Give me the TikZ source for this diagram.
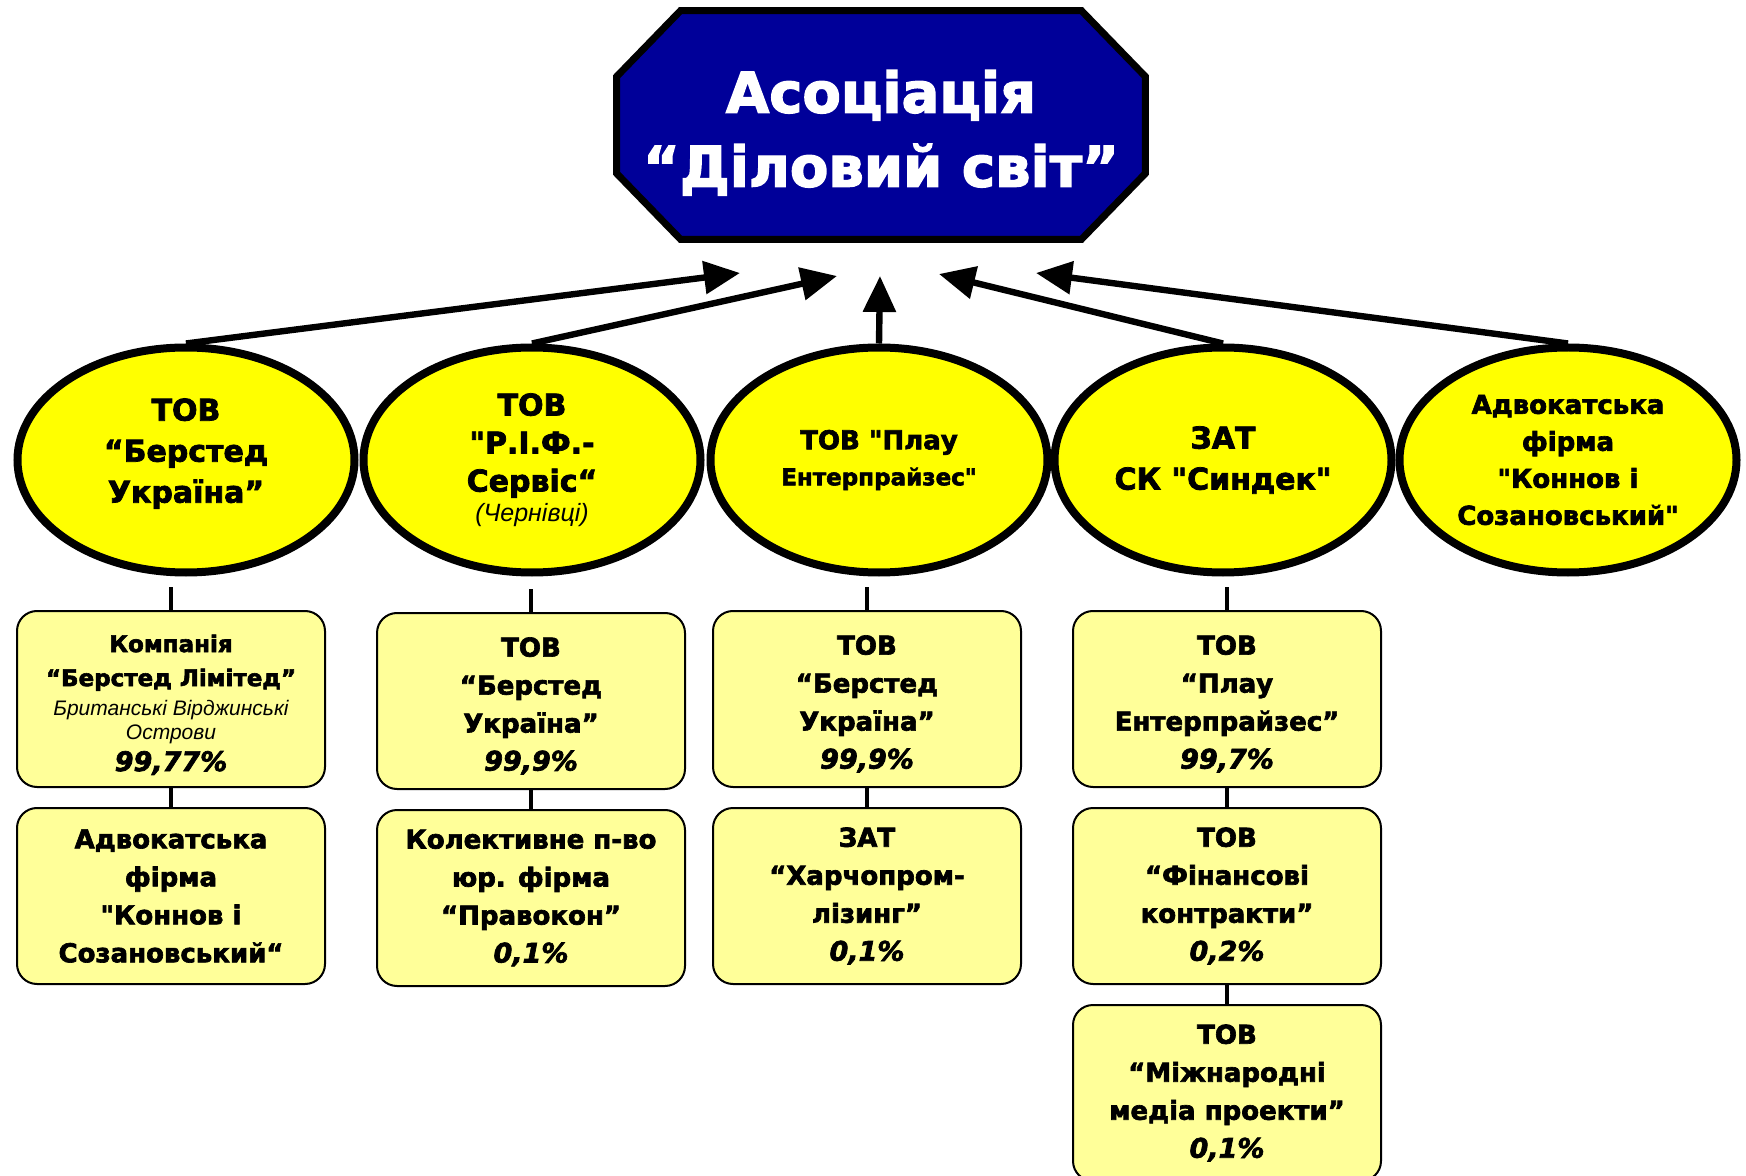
\documentclass[tikz,border=0pt]{standalone}
\usepackage{fontspec}
\setmainfont{DejaVu Sans}[Ligatures=TeXOff, BoldFeatures={FakeBold=2.5}, BoldItalicFeatures={FakeBold=2.5}]
\newfontfamily\placefont{Liberation Sans}
\usetikzlibrary{positioning,arrows.meta,shapes.geometric,backgrounds}

\definecolor{navybox}{HTML}{000099}
\definecolor{firmyellow}{HTML}{FFFF00}
\definecolor{sharepale}{HTML}{FFFF99}

\newcommand{\pct}[1]{{\bfseries\itshape\fontsize{13.5}{15}\selectfont #1}}
\newcommand{\where}[1]{{\placefont\mdseries\itshape\fontsize{10.5}{12}\selectfont #1}}
\newcommand{\lift}{\rule{0pt}{14.5pt}}

\begin{document}
\begin{tikzpicture}[x=0.5pt, y=-0.5pt,
  assoc/.style ={rectangle, minimum width=264pt, minimum height=114pt, inner sep=0pt,
                 text=white, align=center, font=\bfseries\fontsize{28}{37}\selectfont},
  octa/.style  ={draw, line width=3.5pt, fill=navybox, line join=miter},
  member/.style={draw, ellipse, line width=4pt, fill=firmyellow,
                 minimum width=168.5pt, minimum height=112.5pt, inner sep=0pt,
                 align=center, font=\bfseries\fontsize{15}{20.5}\selectfont},
  share/.style ={draw, rounded corners=10pt, line width=1pt, fill=sharepale,
                 minimum width=154pt, minimum height=88pt, inner sep=2pt,
                 align=center, font=\bfseries\fontsize{13}{19}\selectfont},
  arr/.style   ={-{Triangle[length=18pt,width=16pt]}, line width=3.2pt},
  tie/.style   ={line width=2.4pt}]

\useasboundingbox (0,0) rectangle (1746,1176);

%% Top: the association (octagon drawn behind the text)
\node[assoc] (assoc) at (881,125) {\rule{0pt}{29pt}Асоціація\\“Діловий світ”};
\begin{scope}[on background layer]
  \draw[octa] ([xshift=32pt]assoc.north west) -- ([xshift=-32pt]assoc.north east)
    -- ([yshift=-33pt]assoc.north east) -- ([yshift=33pt]assoc.south east)
    -- ([xshift=-32pt]assoc.south east) -- ([xshift=32pt]assoc.south west)
    -- ([yshift=33pt]assoc.south west) -- ([yshift=-33pt]assoc.north west) -- cycle;
\end{scope}

%% Members (row of ellipses)
\node[member] (berstedUA) at (186,460) {ТОВ\\“Берстед\\Україна”\\[-11pt]};
\node[member, font=\bfseries\fontsize{15}{19}\selectfont]
                          (rif)       at (532,460) {ТОВ\\"Р.І.Ф.-\\Сервіс“\\[-4pt]\where{\fontsize{12.5}{14}\selectfont(Чернівці)}};
\node[member, font=\bfseries\fontsize{13}{18}\selectfont]
                          (plau)      at (879,460) {ТОВ "Плау\\{\fontsize{11.5}{18}\selectfont Ентерпрайзес"}};
\node[member] (syndek)    at (1223,460) {ЗАТ\\СК "Синдек"};
\node[member, font=\bfseries\fontsize{13}{18.5}\selectfont]
                          (konnov)    at (1568,460) {Адвокатська\\фірма\\"Коннов і\\Созановський"};

%% Shareholders under each member
\node[share, font=\bfseries\fontsize{11.5}{14}\selectfont]
             (sh1a) at (171,699) {\lift Компанія\\[3pt]“Берстед Лімітед”\\[0.5pt]\where{Британські Вірджинські}\\[-2pt]\where{Острови}\\[2pt]\pct{99,77\%}};
\node[share] (sh1b) [below=9.5pt of sh1a] {Адвокатська\\фірма\\"Коннов і\\Созановський“};

\node[share] (sh2a) at (531,701) {\lift ТОВ\\“Берстед\\Україна”\\\pct{99,9\%}};
\node[share] (sh2b) [below=9.5pt of sh2a] {Колективне п-во\\юр. фірма\\“Правокон”\\\pct{0,1\%}};

\node[share] (sh3a) at (867,699) {\lift ТОВ\\“Берстед\\Україна”\\\pct{99,9\%}};
\node[share] (sh3b) [below=9.5pt of sh3a] {ЗАТ\\“Харчопром-\\лізинг”\\\pct{0,1\%}};

\node[share] (sh4a) at (1227,699) {\lift ТОВ\\“Плау\\Ентерпрайзес”\\\pct{99,7\%}};
\node[share] (sh4b) [below=9.5pt of sh4a] {ТОВ\\“Фінансові\\контракти”\\\pct{0,2\%}};
\node[share] (sh4c) [below=9.5pt of sh4b] {ТОВ\\“Міжнародні\\медіа проекти”\\\pct{0,1\%}};

%% Arrow heads stop short of the association
\coordinate (tip1) at (740,273);
\coordinate (tip2) at (837,276);
\coordinate (tip3) at (880,276);
\coordinate (tip4) at (939,274);
\coordinate (tip5) at (1036,273);

\draw[arr] (berstedUA.north) -- (tip1);
\draw[arr] (rif.north)       -- (tip2);
\draw[arr] (plau.north)      -- (tip3);
\draw[arr] (syndek.north)    -- (tip4);
\draw[arr] (konnov.north)    -- (tip5);

%% Short ties from members down to shareholders
\coordinate (drop1) at ([yshift=11.5pt]sh1a.north);
\coordinate (drop2) at ([yshift=11.5pt]sh2a.north);
\coordinate (drop3) at ([yshift=11.5pt]sh3a.north);
\coordinate (drop4) at ([yshift=11.5pt]sh4a.north);

\draw[tie] (drop1) -- (sh1a.north);
\draw[tie] (drop2) -- (sh2a.north);
\draw[tie] (drop3) -- (sh3a.north);
\draw[tie] (drop4) -- (sh4a.north);

%% Ties between shareholder boxes
\draw[tie] (sh1a.south) -- (sh1b.north);
\draw[tie] (sh2a.south) -- (sh2b.north);
\draw[tie] (sh3a.south) -- (sh3b.north);
\draw[tie] (sh4a.south) -- (sh4b.north);
\draw[tie] (sh4b.south) -- (sh4c.north);
\end{tikzpicture}
\end{document}
